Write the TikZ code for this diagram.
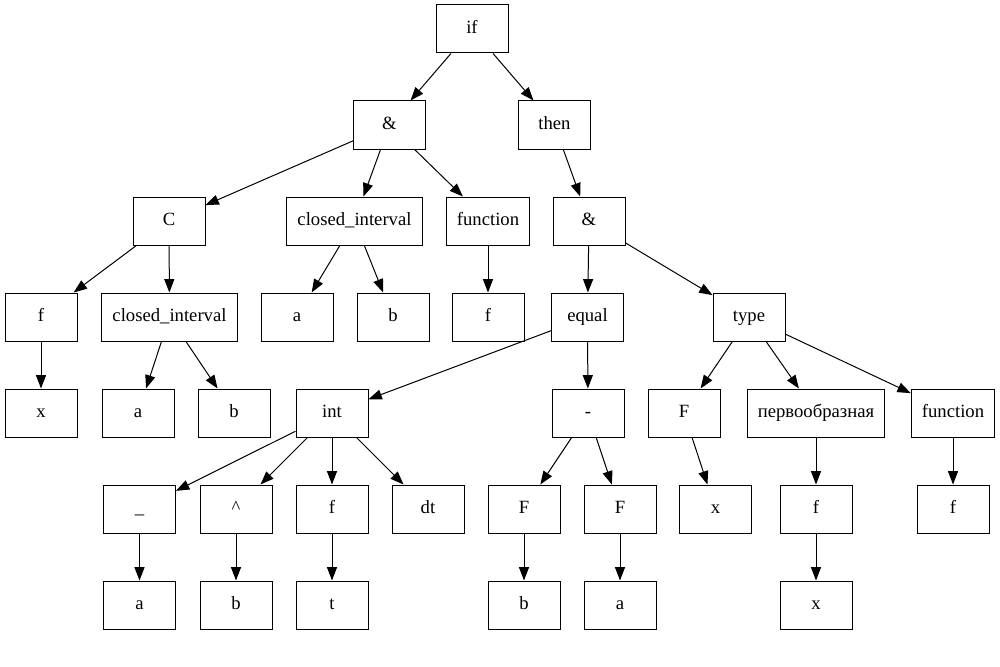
\documentclass[tikz,border=0pt]{standalone}
\usepackage{fontspec}
\setmainfont{Liberation Serif}
\usetikzlibrary{arrows.meta}
\begin{document}
\begin{tikzpicture}[x=0.75pt,y=-0.75pt,
  box/.style={draw=black,line width=0.75pt,rectangle,minimum width=54pt,minimum height=36pt,
    inner xsep=8pt,inner ysep=0pt,text height=9.5pt,text depth=3pt,
    font=\fontsize{14pt}{16pt}\selectfont,fill=white},
  edge/.style={draw=black,line width=0.75pt,-{Triangle[length=10pt,width=7.5pt]}}]
\useasboundingbox (0,0) rectangle (1000,667);
% level 0
\node[box] (if) at (472,29) {if};
% level 1
\node[box] (and1) at (389.5,125) {\&};
\node[box] (then) at (554.5,125) {then};
% level 2
\node[box] (C) at (169,221) {C};
\node[box] (ci1) at (354.5,221) {closed\_interval};
\node[box] (fun1) at (488,221) {function};
\node[box] (and2) at (589,221) {\&};
% level 3
\node[box] (f1) at (41,317) {f};
\node[box] (ci2) at (169.5,317) {closed\_interval};
\node[box] (a1) at (297,317) {a};
\node[box] (b1) at (393,317) {b};
\node[box] (f2) at (488,317) {f};
\node[box] (eq) at (587.5,317) {equal};
\node[box] (type) at (749,317) {type};
% level 4
\node[box] (x1) at (41,413) {x};
\node[box] (a2) at (138,413) {a};
\node[box] (b2) at (234,413) {b};
\node[box] (int) at (332,413) {int};
\node[box] (minus) at (588,413) {-};
\node[box] (F1) at (684,413) {F};
\node[box] (perv) at (816,413) {первообразная};
\node[box] (fun2) at (953,413) {function};
% level 5
\node[box] (sub) at (139.5,509) {\_};
\node[box] (sup) at (236,509) {\textasciicircum};
\node[box] (f3) at (332,509) {f};
\node[box] (dt) at (428,509) {dt};
\node[box] (F2) at (524,509) {F};
\node[box] (F3) at (620,509) {F};
\node[box] (x2) at (715.5,509) {x};
\node[box] (f4) at (816,509) {f};
\node[box] (f5) at (953,509) {f};
% level 6
\node[box] (a3) at (139.5,605) {a};
\node[box] (b3) at (236,605) {b};
\node[box] (t) at (332,605) {t};
\node[box] (b4) at (524,605) {b};
\node[box] (a4) at (620,605) {a};
\node[box] (x3) at (816,605) {x};
% edges
\draw[edge] (if) -- (and1);
\draw[edge] (if) -- (then);
\draw[edge] (and1) -- (C);
\draw[edge] (and1) -- (ci1);
\draw[edge] (and1) -- (fun1);
\draw[edge] (then) -- (and2);
\draw[edge] (C) -- (f1);
\draw[edge] (C) -- (ci2);
\draw[edge] (ci1) -- (a1);
\draw[edge] (ci1) -- (b1);
\draw[edge] (fun1) -- (f2);
\draw[edge] (and2) -- (eq);
\draw[edge] (and2) -- (type);
\draw[edge] (f1) -- (x1);
\draw[edge] (ci2) -- (a2);
\draw[edge] (ci2) -- (b2);
\draw[edge] (eq) -- (int);
\draw[edge] (eq) -- (minus);
\draw[edge] (type) -- (F1);
\draw[edge] (type) -- (perv);
\draw[edge] (type) -- (fun2);
\draw[edge] (int) -- (sub);
\draw[edge] (int) -- (sup);
\draw[edge] (int) -- (f3);
\draw[edge] (int) -- (dt);
\draw[edge] (minus) -- (F2);
\draw[edge] (minus) -- (F3);
\draw[edge] (F1) -- (x2);
\draw[edge] (perv) -- (f4);
\draw[edge] (fun2) -- (f5);
\draw[edge] (sub) -- (a3);
\draw[edge] (sup) -- (b3);
\draw[edge] (f3) -- (t);
\draw[edge] (F2) -- (b4);
\draw[edge] (F3) -- (a4);
\draw[edge] (f4) -- (x3);
\end{tikzpicture}
\end{document}
